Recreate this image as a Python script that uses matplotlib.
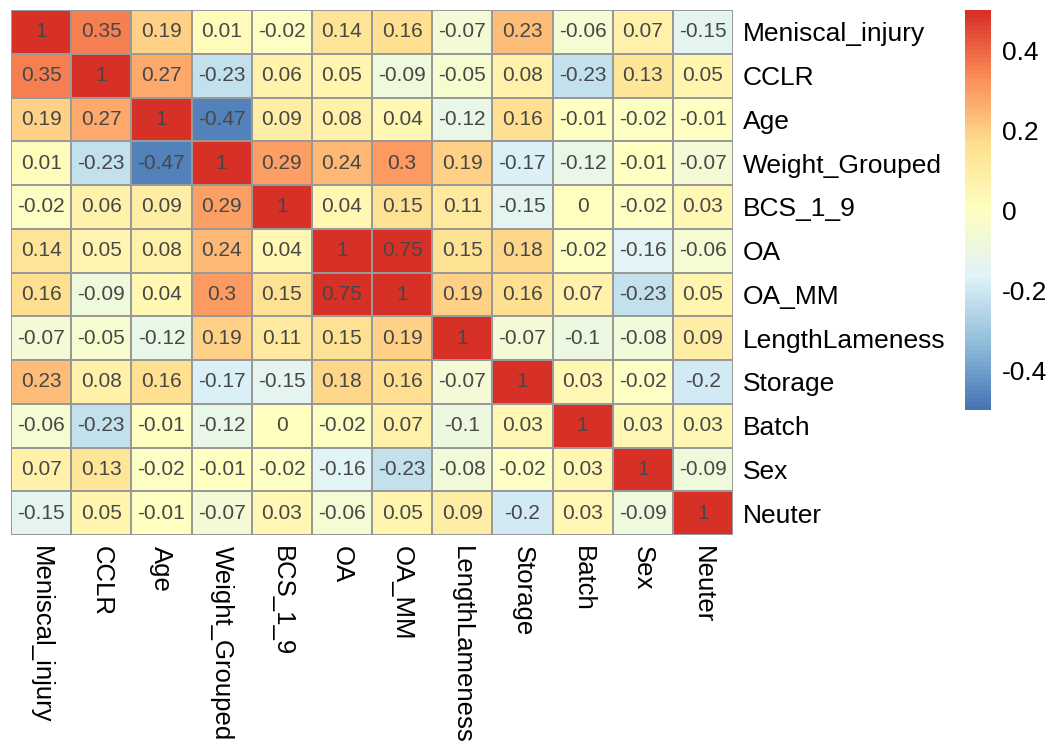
import numpy as np
import matplotlib
matplotlib.use("Agg")
from matplotlib import pyplot as plt
from matplotlib.colors import LinearSegmentedColormap, Normalize

plt.rcParams['font.family'] = ['Liberation Sans', 'DejaVu Sans']

labels = ["Meniscal_injury", "CCLR", "Age", "Weight_Grouped", "BCS_1_9", "OA",
          "OA_MM", "LengthLameness", "Storage", "Batch", "Sex", "Neuter"]

corr = [
    [1, 0.35, 0.19, 0.01, -0.02, 0.14, 0.16, -0.07, 0.23, -0.06, 0.07, -0.15],
    [0.35, 1, 0.27, -0.23, 0.06, 0.05, -0.09, -0.05, 0.08, -0.23, 0.13, 0.05],
    [0.19, 0.27, 1, -0.47, 0.09, 0.08, 0.04, -0.12, 0.16, -0.01, -0.02, -0.01],
    [0.01, -0.23, -0.47, 1, 0.29, 0.24, 0.3, 0.19, -0.17, -0.12, -0.01, -0.07],
    [-0.02, 0.06, 0.09, 0.29, 1, 0.04, 0.15, 0.11, -0.15, 0, -0.02, 0.03],
    [0.14, 0.05, 0.08, 0.24, 0.04, 1, 0.75, 0.15, 0.18, -0.02, -0.16, -0.06],
    [0.16, -0.09, 0.04, 0.3, 0.15, 0.75, 1, 0.19, 0.16, 0.07, -0.23, 0.05],
    [-0.07, -0.05, -0.12, 0.19, 0.11, 0.15, 0.19, 1, -0.07, -0.1, -0.08, 0.09],
    [0.23, 0.08, 0.16, -0.17, -0.15, 0.18, 0.16, -0.07, 1, 0.03, -0.02, -0.2],
    [-0.06, -0.23, -0.01, -0.12, 0, -0.02, 0.07, -0.1, 0.03, 1, 0.03, 0.03],
    [0.07, 0.13, -0.02, -0.01, -0.02, -0.16, -0.23, -0.08, -0.02, 0.03, 1, -0.09],
    [-0.15, 0.05, -0.01, -0.07, 0.03, -0.06, 0.05, 0.09, -0.2, 0.03, -0.09, 1],
]

cbar_ticks = [-0.4, -0.2, 0, 0.2, 0.4]

# reversed RdYlBu (7 classes), like pheatmap's default palette
palette = ["#4575B4", "#91BFDB", "#E0F3F8", "#FFFFBF", "#FEE090", "#FC8D59", "#D73027"]
cmap = LinearSegmentedColormap.from_list("rdylbu_r", palette, N=100)
norm = Normalize(vmin=-0.5, vmax=0.5, clip=True)

W, H = 1057, 749
fig = plt.figure(figsize=(W / 100, H / 100), dpi=100)

# main heatmap
x0, x1, y0, y1 = 11, 733, 10, 535
ax = fig.add_axes([x0 / W, 1 - y1 / H, (x1 - x0) / W, (y1 - y0) / H])
mat = np.array(corr, dtype=float)
n = len(labels)
ax.pcolormesh(np.arange(n + 1), np.arange(n + 1), mat, cmap=cmap, norm=norm,
              edgecolors="#999999", linewidth=1.4)
ax.set_xlim(0, n)
ax.set_ylim(n, 0)
for i in range(n):
    for j in range(n):
        ax.text(j + 0.5, i + 0.5, f"{mat[i, j]:g}", ha="center", va="center",
                fontsize=15, color="#474747")
for s in ax.spines.values():
    s.set_visible(False)
ax.set_xticks(np.arange(n) + 0.5)
ax.set_yticks(np.arange(n) + 0.5)
ax.set_xticklabels(labels, rotation=270, fontsize=18.5, va="top", ha="center")
ax.set_yticklabels(labels, fontsize=19)
ax.yaxis.tick_right()
ax.tick_params(length=0, pad=7)
ax.tick_params(axis="x", pad=8)

# colour key
cx0, cx1, cy0, cy1 = 965, 991, 10, 410
cax = fig.add_axes([cx0 / W, 1 - cy1 / H, (cx1 - cx0) / W, (cy1 - cy0) / H])
grad = np.linspace(-0.5, 0.5, 200).reshape(-1, 1)
cax.imshow(grad, cmap=cmap, norm=norm, aspect="auto", origin="lower",
           extent=[0, 1, -0.5, 0.5])
cax.set_xticks([])
cax.set_yticks(cbar_ticks)
cax.set_yticklabels([f"{t:g}" for t in cbar_ticks], fontsize=19)
cax.yaxis.tick_right()
cax.tick_params(length=0, pad=8)
for s in cax.spines.values():
    s.set_visible(False)

fig.savefig("out.png", dpi=100)
